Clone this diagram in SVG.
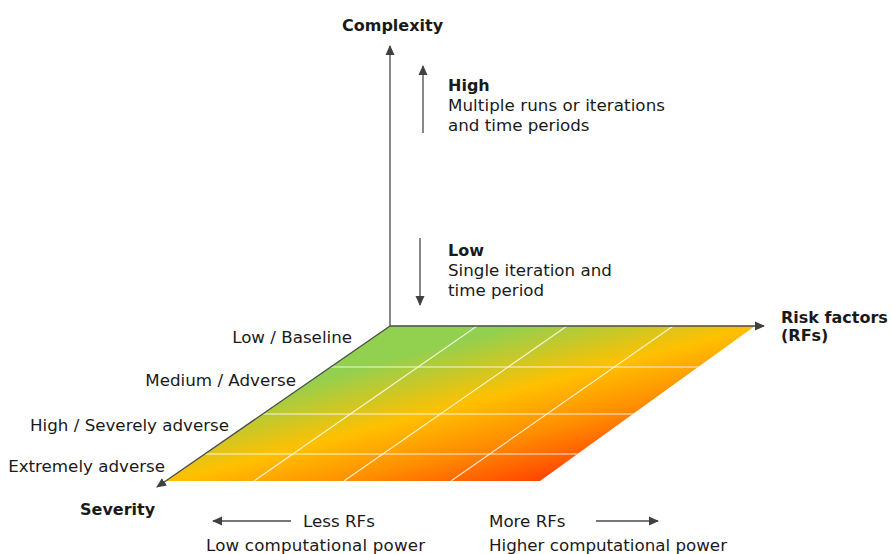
<svg xmlns="http://www.w3.org/2000/svg" width="893" height="554" viewBox="0 0 893 554">
  <style>
    .t { font-family: "DejaVu Sans", "Liberation Sans", sans-serif; font-size: 16.7px; fill: #1a1a1a; }
    .b { font-family: "DejaVu Sans", "Liberation Sans", sans-serif; font-size: 16px; font-weight: bold; fill: #1a1a1a; }
    .ax { stroke: #4a4a4a; stroke-width: 1.3; fill: none; }
    .grid { stroke: #ffffff; stroke-width: 1.1; stroke-opacity: 0.85; fill: none; }
  </style>
  <defs>
    <marker id="ah" viewBox="0 0 10 10" refX="9" refY="5" markerWidth="10" markerHeight="10" markerUnits="userSpaceOnUse" orient="auto">
      <path d="M0,0.5 L10,5 L0,9.5 Z" fill="#404040"/>
    </marker>
    <linearGradient id="heat" gradientUnits="userSpaceOnUse" x1="390" y1="326" x2="438" y2="508">
      <stop offset="0" stop-color="#92d050"/>
      <stop offset="0.17" stop-color="#92d050"/>
      <stop offset="0.5" stop-color="#ffc000"/>
      <stop offset="0.75" stop-color="#ff8c00"/>
      <stop offset="1" stop-color="#ff4500"/>
    </linearGradient>
    <clipPath id="planeClip">
      <polygon points="390,326 755,326 540,481 166,481"/>
    </clipPath>
  </defs>

  <g id="plane">
    <polygon points="390,326 755,326 540,481 166,481" fill="url(#heat)"/>
    <g clip-path="url(#planeClip)">
      <line class="grid" x1="150" y1="367" x2="800" y2="367"/>
      <line class="grid" x1="150" y1="414" x2="800" y2="414"/>
      <line class="grid" x1="150" y1="454" x2="800" y2="454"/>
      <line class="grid" x1="477" y1="326" x2="254" y2="481"/>
      <line class="grid" x1="567" y1="326" x2="344" y2="481"/>
      <line class="grid" x1="673" y1="326" x2="451" y2="481"/>
    </g>
  </g>

  <g id="connectors">
    <line class="ax" x1="390" y1="326" x2="390" y2="46" marker-end="url(#ah)"/>
    <line class="ax" x1="390" y1="326" x2="764" y2="326" marker-end="url(#ah)"/>
    <line class="ax" x1="390" y1="326" x2="157" y2="487" marker-end="url(#ah)"/>
    <line class="ax" x1="423" y1="133" x2="423" y2="66" marker-end="url(#ah)"/>
    <line class="ax" x1="420" y1="238" x2="420" y2="305" marker-end="url(#ah)"/>
    <line class="ax" x1="291" y1="521" x2="213" y2="521" marker-end="url(#ah)"/>
    <line class="ax" x1="596" y1="521" x2="658" y2="521" marker-end="url(#ah)"/>
  </g>

  <g id="complexity-label">
    <text class="b" x="342" y="31">Complexity</text>
  </g>
  <g id="complexity-high">
    <text class="b" x="448" y="91">High</text>
    <text class="t" x="448" y="111" textLength="217" lengthAdjust="spacing">Multiple runs or iterations</text>
    <text class="t" x="448" y="131">and time periods</text>
  </g>
  <g id="complexity-low">
    <text class="b" x="448" y="256">Low</text>
    <text class="t" x="448" y="276">Single iteration and</text>
    <text class="t" x="448" y="296">time period</text>
  </g>
  <g id="risk-factors-label">
    <text class="b" x="781" y="323">Risk factors</text>
    <text class="b" x="781" y="341">(RFs)</text>
  </g>
  <g id="severity-levels">
    <text class="t" x="352" y="343" text-anchor="end">Low / Baseline</text>
    <text class="t" x="296" y="386" text-anchor="end">Medium / Adverse</text>
    <text class="t" x="229" y="431" text-anchor="end">High / Severely adverse</text>
    <text class="t" x="165" y="472" text-anchor="end">Extremely adverse</text>
  </g>
  <g id="severity-label">
    <text class="b" x="80" y="515">Severity</text>
  </g>
  <g id="less-rfs">
    <text class="t" x="303" y="527">Less RFs</text>
    <text class="t" x="206" y="551" textLength="219" lengthAdjust="spacing">Low computational power</text>
  </g>
  <g id="more-rfs">
    <text class="t" x="489" y="527">More RFs</text>
    <text class="t" x="489" y="551" textLength="238" lengthAdjust="spacing">Higher computational power</text>
  </g>
</svg>
